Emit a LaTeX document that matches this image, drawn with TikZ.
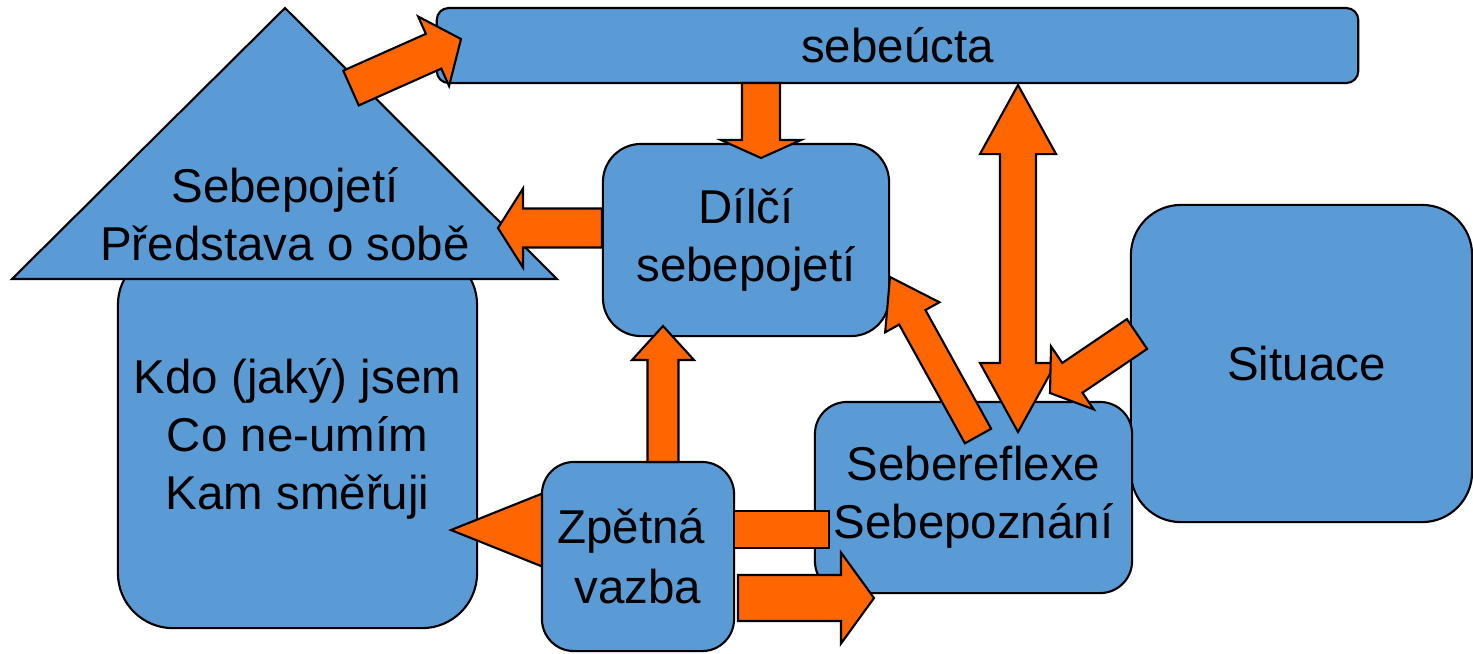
\documentclass[tikz,border=0pt]{standalone}
\usepackage{fontspec}
\setmainfont{Liberation Sans}
\usetikzlibrary{calc}
\definecolor{boxblue}{HTML}{5B9BD5}
\definecolor{arroworange}{HTML}{FF6600}

\newcommand{\fatarrow}[5]{%
\coordinate (fa) at ($(#2)!#5!(#1)$);
\draw[arrowbody] ($(#1)!#3!90:(#2)$) -- ($(fa)!#3!-90:(#1)$) -- ($(fa)!#4!-90:(#1)$) -- (#2) -- ($(fa)!#4!90:(#1)$) -- ($(fa)!#3!90:(#1)$) -- ($(#1)!#3!-90:(#2)$) -- cycle;
}
\newcommand{\dblfatarrow}[5]{%
\coordinate (fa) at ($(#2)!#5!(#1)$);
\coordinate (fb) at ($(#1)!#5!(#2)$);
\draw[arrowbody] (#1) -- ($(fb)!#4!90:(#2)$) -- ($(fb)!#3!90:(#2)$) -- ($(fa)!#3!-90:(#1)$) -- ($(fa)!#4!-90:(#1)$) -- (#2) -- ($(fa)!#4!90:(#1)$) -- ($(fa)!#3!90:(#1)$) -- ($(fb)!#3!-90:(#2)$) -- ($(fb)!#4!-90:(#2)$) -- cycle;
}

\begin{document}
\begin{tikzpicture}[x=0.01cm,y=-0.01cm,
  blueshape/.style={draw=black,line width=0.6pt,fill=boxblue},
  txt/.style={align=center,font=\fontsize{13.5}{16.5}\selectfont},
  box/.style={blueshape,txt},
  arrowbody/.style={draw=black,line width=0.6pt,fill=arroworange}]
\useasboundingbox (0,0) rectangle (1473,653);

\node[box,minimum width=3.59cm,minimum height=3.78cm,rounded corners=0.55cm] (kdo) at (297.5,439) {Kdo (jaký) jsem\\Co ne-umím\\Kam směřuji};
\coordinate (roof-top) at (285,8);
\coordinate (roof-l) at (12,279);
\coordinate (roof-r) at (557,279);
\draw[blueshape] (roof-l) -- (roof-top) -- (roof-r) -- cycle;
\node[txt] (roof) at (285,214) {Sebepojetí\\Představa o sobě};

\node[box,minimum width=9.21cm,minimum height=0.75cm,rounded corners=0.12cm] (ucta) at (897.5,45.5) {sebeúcta};
\node[box,minimum width=2.86cm,minimum height=1.92cm,rounded corners=0.38cm] (dilci) at (746,240) {Dílčí\\sebepojetí};
\node[box,minimum width=3.41cm,minimum height=3.17cm,rounded corners=0.5cm] (situace) at (1301.5,363.5) {\hspace*{0.21em}Situace};
\node[box,minimum width=3.17cm,minimum height=1.91cm,rounded corners=0.32cm] (reflexe) at (973.5,497.5) {Sebereflexe\\Sebepoznání};

\coordinate (zpet-l) at (600,530);
\coordinate (kdo-in) at (451,530);
\fatarrow{zpet-l}{kdo-in}{0.20cm}{0.48cm}{1.20cm}
\node[box,font=\fontsize{13.5}{17.1}\selectfont,minimum width=1.92cm,minimum height=1.89cm,rounded corners=0.32cm] (zpetna) at (638,556.5) {Zpětná\hspace*{0.28em}\\vazba};

\coordinate (roof-out) at (351,88);
\coordinate (ucta-in) at (461,39);
\fatarrow{roof-out}{ucta-in}{0.19cm}{0.38cm}{0.30cm}
\coordinate (ucta-out) at (761,83);
\coordinate (dilci-top) at (761,158);
\fatarrow{ucta-out}{dilci-top}{0.19cm}{0.40cm}{0.18cm}
\coordinate (dilci-out) at (602,228);
\coordinate (roof-in) at (498,228);
\fatarrow{dilci-out}{roof-in}{0.195cm}{0.395cm}{0.25cm}
\coordinate (ucta-r) at (1018,85);
\coordinate (reflexe-top) at (1018,432);
\dblfatarrow{ucta-r}{reflexe-top}{0.18cm}{0.38cm}{0.69cm}
\coordinate (reflexe-out) at (978,436);
\coordinate (dilci-r) at (890,277);
\fatarrow{reflexe-out}{dilci-r}{0.15cm}{0.31cm}{0.46cm}
\coordinate (situace-out) at (1137,334);
\coordinate (reflexe-in) at (1050,393);
\fatarrow{situace-out}{reflexe-in}{0.18cm}{0.38cm}{0.27cm}
\coordinate (zpet-top) at (663,462);
\coordinate (dilci-bot) at (663,326);
\fatarrow{zpet-top}{dilci-bot}{0.155cm}{0.31cm}{0.34cm}
\coordinate (zpet-r) at (734,529.5);
\coordinate (reflexe-l) at (829,529.5);
\fatarrow{zpet-r}{reflexe-l}{0.185cm}{0.185cm}{0cm}
\coordinate (zpet-r2) at (738,598);
\coordinate (reflexe-l2) at (874,598);
\fatarrow{zpet-r2}{reflexe-l2}{0.23cm}{0.455cm}{0.33cm}
\end{tikzpicture}
\end{document}
